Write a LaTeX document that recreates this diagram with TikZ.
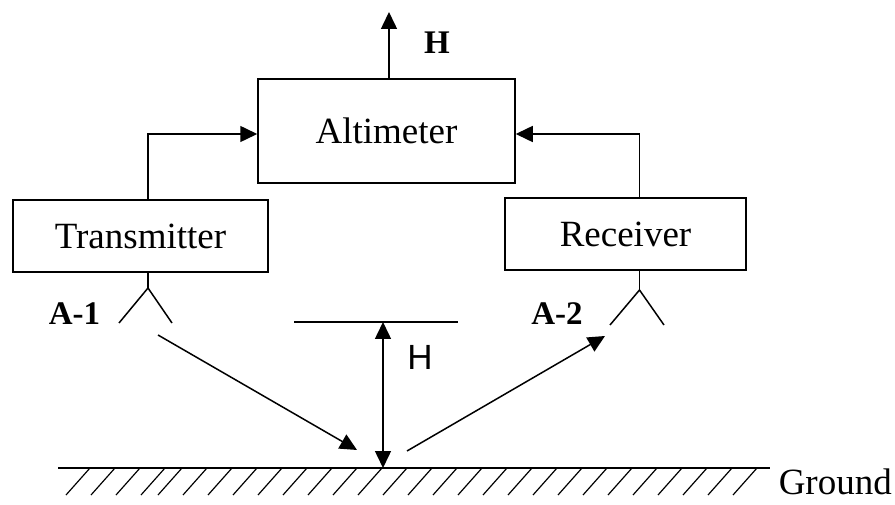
\documentclass[tikz,border=0pt]{standalone}
\usepackage{fontspec}
\setmainfont{Liberation Serif}
\newfontfamily\sansfnt{Liberation Sans}
\usepackage{tikz}
\usetikzlibrary{arrows.meta}

\begin{document}
\begin{tikzpicture}[x=1pt,y=-1pt,line width=1.5pt,
	>={Triangle[length=17pt,width=16pt]}]
	\tikzstyle{every node}+=[inner sep=0pt]
	\tikzstyle{unit}=[draw,rectangle,font=\fontsize{37}{40}\selectfont]
	\tikzstyle{tag}=[font=\fontsize{33}{36}\selectfont\bfseries]
	\useasboundingbox (0,0) rectangle (895,505);
	% blocks
	\node [unit,minimum width=257pt,minimum height=104pt] (alt) at (386.5,131) {Altimeter};
	\node [unit,minimum width=255pt,minimum height=72pt] (tx) at (140.5,236) {Transmitter};
	\node [unit,minimum width=241pt,minimum height=72pt] (rx) at (625.5,234) {Receiver};
	% output
	\coordinate (hout) at (389,12);
	\draw [->] (alt.north -| hout) -- (hout);
	\node [tag] (hb) at (437,43) {H};
	% feeds
	\draw [->] ([xshift=7.5pt]tx.north) |- ([yshift=-3pt]alt.west);
	\draw [->] ([xshift=14pt]rx.north) |- ([yshift=-3pt]alt.east);
	% antennas
	\coordinate (a1) at (148,288);
	\coordinate (a2) at (639.5,290);
	\draw ([xshift=7.5pt]tx.south) -- (a1);
	\draw (119,323) -- (a1) -- (172,323);
	\draw ([xshift=14pt]rx.south) -- (a2);
	\draw (610,325) -- (a2) -- (664,325);
	\node [tag] (l1) at (74.5,314) {A-1};
	\node [tag] (l2) at (557,314) {A-2};
	% ground
	\coordinate (gl) at (58,468);
	\coordinate (gr) at (770,468);
	\draw (gl) -- (gr);
	\foreach \x in {66,91,116,141,158,183,...,733}
		\draw [line width=1.2pt] (\x,495) -- ++(24,-27);
	\node [font=\fontsize{37}{40}\selectfont,anchor=base west] (gnd) at (778,494) {Ground};
	% height
	\coordinate (hl) at (294,322);
	\coordinate (hr) at (458,322);
	\draw (hl) -- (hr);
	\coordinate (htop) at (383,322);
	\draw [<->] (htop) -- (htop |- gl);
	\node [font=\fontsize{35}{38}\sansfnt] (hs) at (420,357) {H};
	% path
	\coordinate (p1) at (158,335);
	\coordinate (p2) at (357,450);
	\coordinate (p3) at (407,451);
	\coordinate (p4) at (605,336);
	\draw [->] (p1) -- (p2);
	\draw [->] (p3) -- (p4);
\end{tikzpicture}
\end{document}
